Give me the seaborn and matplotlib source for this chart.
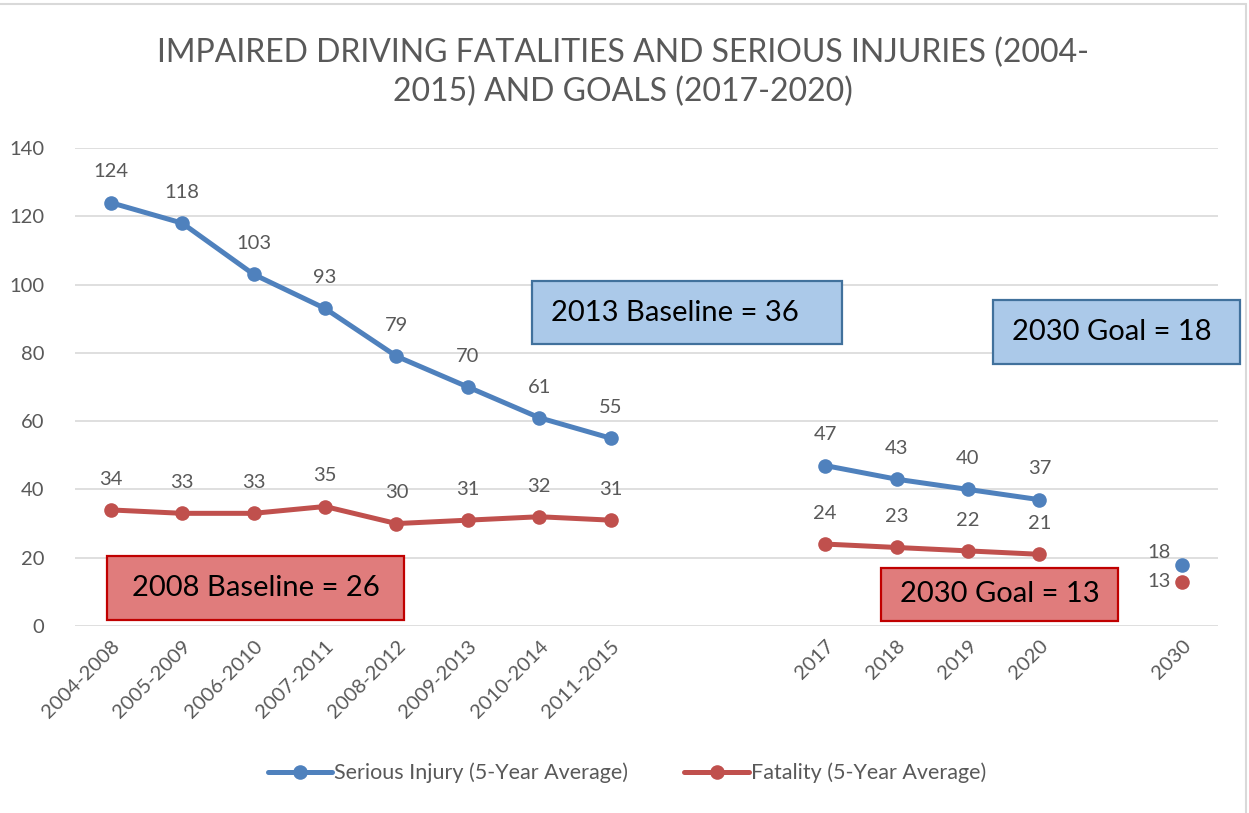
import numpy as np
import pandas as pd
import matplotlib
matplotlib.use("Agg")
import matplotlib.pyplot as plt
import seaborn as sns
from matplotlib.lines import Line2D
from matplotlib.patches import Rectangle

# chart data (blank slots are the gaps on the category axis)
categories = ['2004-2008', '2005-2009', '2006-2010', '2007-2011', '2008-2012',
              '2009-2013', '2010-2014', '2011-2015', '', '',
              '2017', '2018', '2019', '2020', '', '2030']
serious_injury = [124, 118, 103, 93, 79, 70, 61, 55, None, None,
                  47, 43, 40, 37, None, 18]
fatality = [34, 33, 33, 35, 30, 31, 32, 31, None, None,
            24, 23, 22, 21, None, 13]
series_names = ['Serious Injury (5-Year Average)', 'Fatality (5-Year Average)']
colors = ['#4F81BD', '#C0504D']

# build long table, with a segment id so gaps stay gaps
rows = []
for name, vals in zip(series_names, [serious_injury, fatality]):
    seg = 0
    for i, v in enumerate(vals):
        if v is None:
            seg += 1
            continue
        rows.append({'pos': i, 'value': v, 'series': name, 'seg': seg})
df = pd.DataFrame(rows)

sns.set_style("white")
plt.rcParams['font.family'] = ['Lato', 'DejaVu Sans']
grey_text = '#595959'

fig = plt.figure(figsize=(12.49, 8.13), dpi=100)
W, H = 1249, 813
ax = fig.add_axes([75 / W, 1 - 626 / H, (1218 - 75) / W, (626 - 148) / H])

sns.lineplot(data=df, x='pos', y='value', hue='series', units='seg',
             estimator=None, palette=dict(zip(series_names, colors)),
             marker='o', markersize=10.5, markeredgewidth=0, linewidth=3.6,
             legend=False, ax=ax, zorder=3)

ax.set_xlim(-0.5, len(categories) - 0.5)
ax.set_ylim(0, 140)
ax.set_yticks(range(0, 141, 20))
ax.set_xticks(range(len(categories)))
ax.set_xticklabels(categories, rotation=45, ha='right', rotation_mode='anchor')
ax.tick_params(axis='both', length=0, labelsize=14.5, labelcolor=grey_text)
ax.tick_params(axis='x', pad=8)
ax.tick_params(axis='y', pad=22)
ax.set_xlabel('')
ax.set_ylabel('')
ax.grid(axis='y', color='#D9D9D9', linewidth=1.2)
ax.grid(axis='x', visible=False)
for sp in ax.spines.values():
    sp.set_visible(False)

# data labels
for vals in [serious_injury, fatality]:
    for i, v in enumerate(vals):
        if v is None:
            continue
        if categories[i] == '2030':
            continue
        ax.annotate(str(v), (i, v), xytext=(0, 16), textcoords='offset points',
                    ha='center', va='bottom', fontsize=14.5, color=grey_text)
ax.annotate(str(serious_injury[-1]), (15, serious_injury[-1]), xytext=(-8, 9),
            textcoords='offset points', ha='right', va='center',
            fontsize=14.5, color=grey_text)
ax.annotate(str(fatality[-1]), (15, fatality[-1]), xytext=(-8, 0),
            textcoords='offset points', ha='right', va='center',
            fontsize=14.5, color=grey_text)

# callout boxes (pixel boxes on the figure)
def callout(x0, y0, x1, y1, text, face, edge, tx=None):
    fig.patches.append(Rectangle((x0 / W, 1 - y1 / H), (x1 - x0) / W, (y1 - y0) / H,
                                 transform=fig.transFigure, facecolor=face,
                                 edgecolor=edge, linewidth=1.6, zorder=5))
    cx = (x0 + x1) / 2 if tx is None else tx
    fig.text(cx / W, 1 - (y0 + y1) / 2 / H, text, ha='center', va='center',
             fontsize=21, color='black', zorder=6)

callout(532, 281, 842, 344, '2013 Baseline = 36', '#ABC9E9', '#41719C', tx=675)
callout(993, 300, 1240, 364, '2030 Goal = 18', '#ABC9E9', '#41719C', tx=1112)
callout(107, 556, 404, 620, '2008 Baseline = 26', '#E07C7C', '#C00000')
callout(881, 568, 1118, 621, '2030 Goal = 13', '#E07C7C', '#C00000')

# title
fig.text(623 / W, 1 - 72 / H,
         'IMPAIRED DRIVING FATALITIES AND SERIOUS INJURIES (2004-\n2015) AND GOALS (2017-2020)',
         ha='center', va='center', fontsize=23, color=grey_text, linespacing=1.35)

# legend
handles = [Line2D([], [], color=c, linewidth=3.6, marker='o', markersize=10.5,
                  markeredgewidth=0) for c in colors]
fig.legend(handles, series_names, loc='center', bbox_to_anchor=(627 / W, 1 - 773 / H),
           ncol=2, frameon=False, fontsize=15.5, labelcolor=grey_text,
           handlelength=3.0, handletextpad=0.1, columnspacing=2.6)

# faint chart frame
fig.lines.append(Line2D([0, 1246 / W], [1 - 4 / H, 1 - 4 / H], transform=fig.transFigure,
                        color='#D9D9D9', linewidth=1.5))
fig.lines.append(Line2D([1246 / W, 1246 / W], [0, 1 - 4 / H], transform=fig.transFigure,
                        color='#D9D9D9', linewidth=1.5))

fig.savefig('out.png', dpi=100)
